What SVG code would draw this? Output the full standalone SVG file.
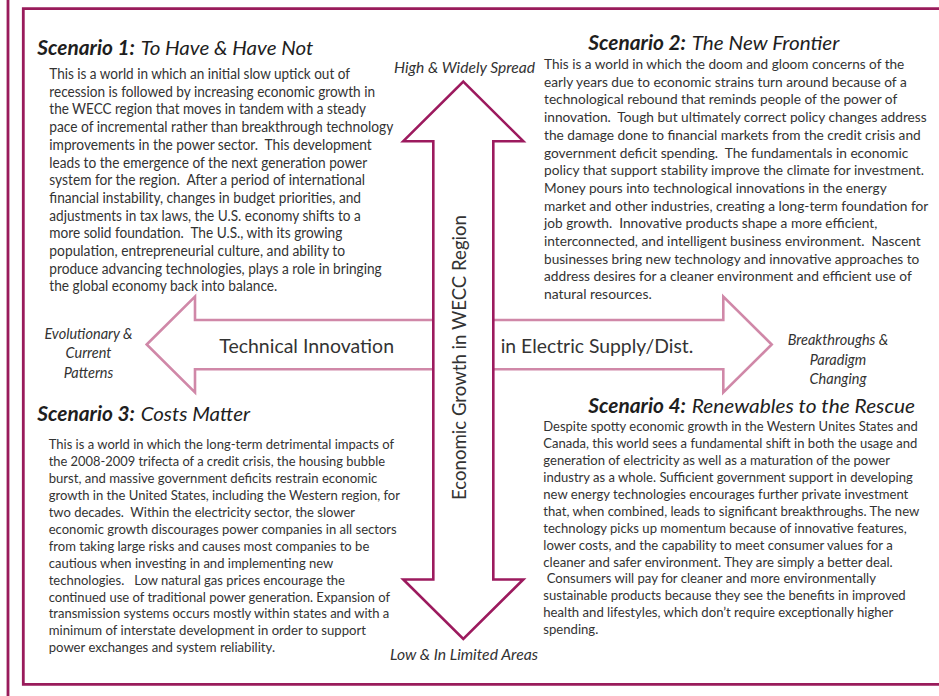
<svg xmlns="http://www.w3.org/2000/svg" width="939" height="696" viewBox="0 0 939 696">
<style>
.frame{stroke:#991b5b;stroke-width:2.8;fill:none}
.vArrow{stroke:#9c1a5e;stroke-width:2.6;fill:#ffffff;stroke-linejoin:miter}
.hArrow{stroke:#d088a8;stroke-width:2.6;fill:#ffffff;stroke-linejoin:miter}
text{font-family:Lato,"Open Sans","Liberation Sans",sans-serif;white-space:pre}
.body{font-size:14.5px;fill:#333333}
.bodyR{font-size:13.5px;fill:#333333}
.body2{font-size:14px;fill:#333333}
.hb{font-size:20px;font-weight:bold;font-style:italic;fill:#1e1e1e}
.hi{font-size:20px;font-style:italic;fill:#1e1e1e}
.lab{font-size:14.5px;font-style:italic;fill:#333333}
.axis{font-size:20px;fill:#333333}
</style>
<rect width="939" height="696" fill="#ffffff"/>
<g id="frame">
<line class="frame" x1="8" y1="0" x2="8" y2="696"/>
<polyline class="frame" points="939,8.6 23.3,8.6 23.3,684.3 939,684.3"/>
</g>
<g id="connectors">
<polygon id="arrow-horizontal" class="hArrow" points="146.7,344.5 195,296.7 195,320 723.3,320 723.3,296.7 771.7,344.5 723.3,392.5 723.3,369.3 195,369.3 195,392.5"/>
<polygon id="arrow-vertical" class="vArrow" points="463.3,81.7 523.3,141.2 493.3,141.2 493.3,579.5 523.3,579.5 463.3,639 403.3,579.5 433.3,579.5 433.3,141.2 403.3,141.2"/>
</g>
<g id="axis-labels">
<text class="axis" x="219.3" y="353.3" textLength="174.7" lengthAdjust="spacingAndGlyphs">Technical Innovation</text>
<text class="axis" x="500.7" y="353.3" textLength="192.6" lengthAdjust="spacingAndGlyphs">in Electric Supply/Dist.</text>
<text class="axis" transform="translate(465.5,500) rotate(-90)" x="0" y="0" textLength="285" lengthAdjust="spacingAndGlyphs">Economic Growth in WECC Region</text>
<text class="lab" x="394" y="73.3" textLength="141" lengthAdjust="spacingAndGlyphs">High &amp; Widely Spread</text>
<text class="lab" x="390" y="660" textLength="148" lengthAdjust="spacingAndGlyphs">Low &amp; In Limited Areas</text>
<text class="lab" x="88.5" y="338.5" text-anchor="middle">Evolutionary &amp;</text>
<text class="lab" x="88.5" y="358" text-anchor="middle">Current</text>
<text class="lab" x="88.5" y="377.5" text-anchor="middle">Patterns</text>
<text class="lab" x="838" y="345" text-anchor="middle">Breakthroughs &amp;</text>
<text class="lab" x="838" y="364.5" text-anchor="middle">Paradigm</text>
<text class="lab" x="838" y="384" text-anchor="middle">Changing</text>
</g>
<g id="scenario1">
<text class="hb" x="37.3" y="55" textLength="97.7" lengthAdjust="spacingAndGlyphs">Scenario 1:</text>
<text class="hi" x="140.7" y="55" textLength="172.6" lengthAdjust="spacingAndGlyphs">To Have &amp; Have Not</text>
<text class="body" x="49.3" y="79" textLength="300.7" lengthAdjust="spacingAndGlyphs">This is a world in which an initial slow uptick out of</text>
<text class="body" x="49.3" y="96.7" textLength="325.7" lengthAdjust="spacingAndGlyphs">recession is followed by increasing economic growth in</text>
<text class="body" x="49.3" y="114.4" textLength="316.7" lengthAdjust="spacingAndGlyphs">the WECC region that moves in tandem with a steady</text>
<text class="body" x="49.3" y="132.1" textLength="344" lengthAdjust="spacingAndGlyphs">pace of incremental rather than breakthrough technology</text>
<text class="body" x="49.3" y="149.8" textLength="322.4" lengthAdjust="spacingAndGlyphs">improvements in the power sector.  This development</text>
<text class="body" x="49.3" y="167.5" textLength="318" lengthAdjust="spacingAndGlyphs">leads to the emergence of the next generation power</text>
<text class="body" x="49.3" y="185.2" textLength="315.7" lengthAdjust="spacingAndGlyphs">system for the region.  After a period of international</text>
<text class="body" x="49.3" y="202.9" textLength="311.7" lengthAdjust="spacingAndGlyphs">financial instability, changes in budget priorities, and</text>
<text class="body" x="49.3" y="220.6" textLength="311.4" lengthAdjust="spacingAndGlyphs">adjustments in tax laws, the U.S. economy shifts to a</text>
<text class="body" x="49.3" y="238.3" textLength="293" lengthAdjust="spacingAndGlyphs">more solid foundation.  The U.S., with its growing</text>
<text class="body" x="49.3" y="256" textLength="295.7" lengthAdjust="spacingAndGlyphs">population, entrepreneurial culture, and ability to</text>
<text class="body" x="49.3" y="273.7" textLength="332.4" lengthAdjust="spacingAndGlyphs">produce advancing technologies, plays a role in bringing</text>
<text class="body" x="49.3" y="291.4" textLength="228" lengthAdjust="spacingAndGlyphs">the global economy back into balance.</text>
</g>
<g id="scenario2">
<text class="hb" x="588.3" y="50" textLength="97.7" lengthAdjust="spacingAndGlyphs">Scenario 2:</text>
<text class="hi" x="691.7" y="50" textLength="147.6" lengthAdjust="spacingAndGlyphs">The New Frontier</text>
<text class="bodyR" x="544" y="69" textLength="360.3" lengthAdjust="spacingAndGlyphs">This is a world in which the doom and gloom concerns of the</text>
<text class="bodyR" x="544" y="86.7" textLength="362.7" lengthAdjust="spacingAndGlyphs">early years due to economic strains turn around because of a</text>
<text class="bodyR" x="544" y="104.4" textLength="353.3" lengthAdjust="spacingAndGlyphs">technological rebound that reminds people of the power of</text>
<text class="bodyR" x="544" y="122.1" textLength="382.7" lengthAdjust="spacingAndGlyphs">innovation.  Tough but ultimately correct policy changes address</text>
<text class="bodyR" x="544" y="139.8" textLength="376.7" lengthAdjust="spacingAndGlyphs">the damage done to financial markets from the credit crisis and</text>
<text class="bodyR" x="544" y="157.5" textLength="364.3" lengthAdjust="spacingAndGlyphs">government deficit spending.  The fundamentals in economic</text>
<text class="bodyR" x="544" y="175.2" textLength="380" lengthAdjust="spacingAndGlyphs">policy that support stability improve the climate for investment.</text>
<text class="bodyR" x="544" y="192.9" textLength="342.7" lengthAdjust="spacingAndGlyphs">Money pours into technological innovations in the energy</text>
<text class="bodyR" x="544" y="210.6" textLength="384.3" lengthAdjust="spacingAndGlyphs">market and other industries, creating a long-term foundation for</text>
<text class="bodyR" x="544" y="228.3" textLength="333.3" lengthAdjust="spacingAndGlyphs">job growth.  Innovative products shape a more efficient,</text>
<text class="bodyR" x="544" y="246" textLength="376.7" lengthAdjust="spacingAndGlyphs">interconnected, and intelligent business environment.  Nascent</text>
<text class="bodyR" x="544" y="263.7" textLength="375.3" lengthAdjust="spacingAndGlyphs">businesses bring new technology and innovative approaches to</text>
<text class="bodyR" x="544" y="281.4" textLength="367.7" lengthAdjust="spacingAndGlyphs">address desires for a cleaner environment and efficient use of</text>
<text class="bodyR" x="544" y="299.1" textLength="107.7" lengthAdjust="spacingAndGlyphs">natural resources.</text>
</g>
<g id="scenario3">
<text class="hb" x="37.3" y="420.7" textLength="97.7" lengthAdjust="spacingAndGlyphs">Scenario 3:</text>
<text class="hi" x="140.7" y="420.7" textLength="109.3" lengthAdjust="spacingAndGlyphs">Costs Matter</text>
<text class="body2" x="48.7" y="449" textLength="345.3" lengthAdjust="spacingAndGlyphs">This is a world in which the long-term detrimental impacts of</text>
<text class="body2" x="48.7" y="465.9" textLength="336.3" lengthAdjust="spacingAndGlyphs">the 2008-2009 trifecta of a credit crisis, the housing bubble</text>
<text class="body2" x="48.7" y="482.9" textLength="328.6" lengthAdjust="spacingAndGlyphs">burst, and massive government deficits restrain economic</text>
<text class="body2" x="48.7" y="499.8" textLength="351.3" lengthAdjust="spacingAndGlyphs">growth in the United States, including the Western region, for</text>
<text class="body2" x="48.7" y="516.8" textLength="306.3" lengthAdjust="spacingAndGlyphs">two decades.  Within the electricity sector, the slower</text>
<text class="body2" x="48.7" y="533.7" textLength="348" lengthAdjust="spacingAndGlyphs">economic growth discourages power companies in all sectors</text>
<text class="body2" x="48.7" y="550.6" textLength="320.6" lengthAdjust="spacingAndGlyphs">from taking large risks and causes most companies to be</text>
<text class="body2" x="48.7" y="567.6" textLength="284.6" lengthAdjust="spacingAndGlyphs">cautious when investing in and implementing new</text>
<text class="body2" x="48.7" y="584.5" textLength="296.3" lengthAdjust="spacingAndGlyphs">technologies.   Low natural gas prices encourage the</text>
<text class="body2" x="48.7" y="601.5" textLength="341.3" lengthAdjust="spacingAndGlyphs">continued use of traditional power generation. Expansion of</text>
<text class="body2" x="48.7" y="618.4" textLength="340.6" lengthAdjust="spacingAndGlyphs">transmission systems occurs mostly within states and with a</text>
<text class="body2" x="48.7" y="635.3" textLength="317.3" lengthAdjust="spacingAndGlyphs">minimum of interstate development in order to support</text>
<text class="body2" x="48.7" y="652.3" textLength="226.3" lengthAdjust="spacingAndGlyphs">power exchanges and system reliability.</text>
</g>
<g id="scenario4">
<text class="hb" x="588.3" y="412.7" textLength="97.7" lengthAdjust="spacingAndGlyphs">Scenario 4:</text>
<text class="hi" x="691.7" y="412.7" textLength="223.3" lengthAdjust="spacingAndGlyphs">Renewables to the Rescue</text>
<text class="bodyR" x="543.3" y="431.3" textLength="374.4" lengthAdjust="spacingAndGlyphs">Despite spotty economic growth in the Western Unites States and</text>
<text class="bodyR" x="543.3" y="448.2" textLength="374" lengthAdjust="spacingAndGlyphs">Canada, this world sees a fundamental shift in both the usage and</text>
<text class="bodyR" x="543.3" y="465.1" textLength="346.7" lengthAdjust="spacingAndGlyphs">generation of electricity as well as a maturation of the power</text>
<text class="bodyR" x="543.3" y="482" textLength="369.4" lengthAdjust="spacingAndGlyphs">industry as a whole. Sufficient government support in developing</text>
<text class="bodyR" x="543.3" y="498.9" textLength="365" lengthAdjust="spacingAndGlyphs">new energy technologies encourages further private investment</text>
<text class="bodyR" x="543.3" y="515.8" textLength="376" lengthAdjust="spacingAndGlyphs">that, when combined, leads to significant breakthroughs. The new</text>
<text class="bodyR" x="543.3" y="532.7" textLength="363.4" lengthAdjust="spacingAndGlyphs">technology picks up momentum because of innovative features,</text>
<text class="bodyR" x="543.3" y="549.6" textLength="349.4" lengthAdjust="spacingAndGlyphs">lower costs, and the capability to meet consumer values for a</text>
<text class="bodyR" x="543.3" y="566.5" textLength="349.4" lengthAdjust="spacingAndGlyphs">cleaner and safer environment. They are simply a better deal.</text>
<text class="bodyR" x="546.7" y="583.4" textLength="329.3" lengthAdjust="spacingAndGlyphs">Consumers will pay for cleaner and more environmentally</text>
<text class="bodyR" x="543.3" y="600.3" textLength="362.4" lengthAdjust="spacingAndGlyphs">sustainable products because they see the benefits in improved</text>
<text class="bodyR" x="543.3" y="617.2" textLength="350" lengthAdjust="spacingAndGlyphs">health and lifestyles, which don’t require exceptionally higher</text>
<text class="bodyR" x="543.3" y="634.1" textLength="55" lengthAdjust="spacingAndGlyphs">spending.</text>
</g>
</svg>
